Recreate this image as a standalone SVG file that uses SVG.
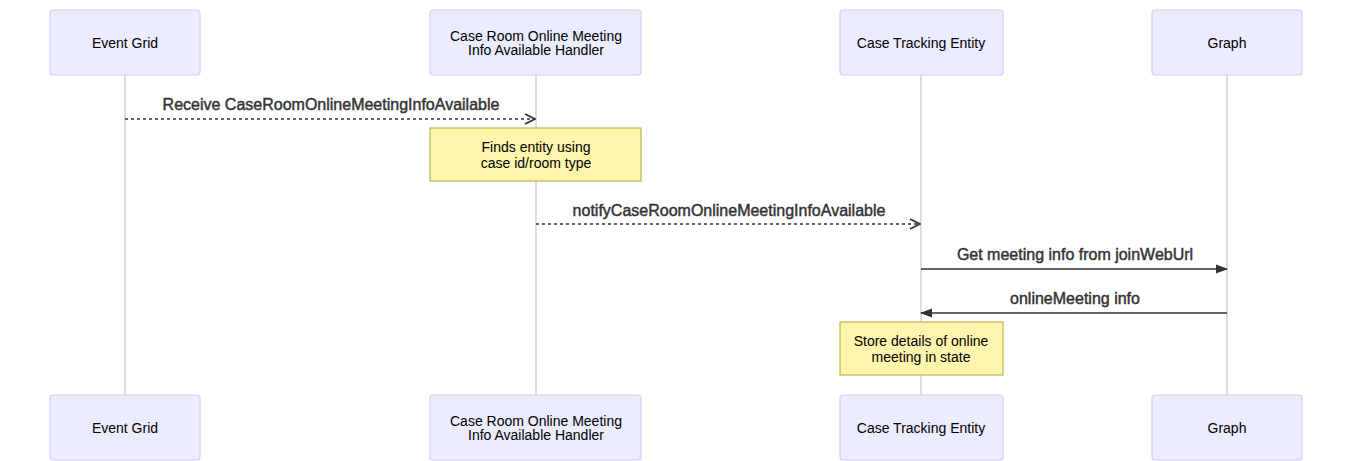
<svg xmlns="http://www.w3.org/2000/svg" width="1352" height="461" viewBox="0 0 1352 461">
<defs>
<style>
.actor{fill:#ececff;stroke:#d6cff5;stroke-width:1.2}
.atext{font-family:"Liberation Sans",Arial,sans-serif;font-size:14px;fill:#000;text-anchor:middle}
.life{stroke:#d3d3d3;stroke-width:1.5}
.msg{stroke:#333;stroke-width:1.5;fill:none}
.dash{stroke-dasharray:3,3}
.mtext{font-family:"Liberation Sans",Arial,sans-serif;font-size:16px;fill:#333;stroke:#333;stroke-width:0.45;text-anchor:middle}
.note{fill:#fff5ad;stroke:#aaaa33;stroke-width:1}
.ntext{font-family:"Liberation Sans",Arial,sans-serif;font-size:14px;fill:#000;text-anchor:middle}
</style>
<marker id="open" viewBox="0 0 12 12" refX="11" refY="6" markerWidth="12" markerHeight="12" markerUnits="userSpaceOnUse" orient="auto">
<path d="M1,1 L11,6 L1,11" fill="none" stroke="#333" stroke-width="1.8"/>
</marker>
<marker id="filled" viewBox="0 0 12 12" refX="11" refY="6" markerWidth="12" markerHeight="12" markerUnits="userSpaceOnUse" orient="auto">
<path d="M0,1.5 L12,6 L0,10.5 Z" fill="#333"/>
</marker>
</defs>
<rect width="1352" height="461" fill="#fff"/>
<g id="lifelines">
<line class="life" x1="125" y1="75" x2="125" y2="395"/>
<line class="life" x1="536" y1="75" x2="536" y2="395"/>
<line class="life" x1="921" y1="75" x2="921" y2="395"/>
<line class="life" x1="1227" y1="75" x2="1227" y2="395"/>
</g>
<g id="actor-eventgrid-top"><rect class="actor" x="50" y="10" width="150" height="65" rx="3"/><text class="atext" x="125" y="48">Event Grid</text></g>
<g id="actor-handler-top"><rect class="actor" x="430" y="10" width="211" height="65" rx="3"/><text class="atext" x="536" y="41">Case Room Online Meeting</text><text class="atext" x="536" y="55">Info Available Handler</text></g>
<g id="actor-cte-top"><rect class="actor" x="840" y="10" width="163" height="65" rx="3"/><text class="atext" x="921" y="48">Case Tracking Entity</text></g>
<g id="actor-graph-top"><rect class="actor" x="1152" y="10" width="150" height="65" rx="3"/><text class="atext" x="1227" y="48">Graph</text></g>
<g id="actor-eventgrid-bottom"><rect class="actor" x="50" y="395" width="150" height="65" rx="3"/><text class="atext" x="125" y="433">Event Grid</text></g>
<g id="actor-handler-bottom"><rect class="actor" x="430" y="395" width="211" height="65" rx="3"/><text class="atext" x="536" y="426">Case Room Online Meeting</text><text class="atext" x="536" y="440">Info Available Handler</text></g>
<g id="actor-cte-bottom"><rect class="actor" x="840" y="395" width="163" height="65" rx="3"/><text class="atext" x="921" y="433">Case Tracking Entity</text></g>
<g id="actor-graph-bottom"><rect class="actor" x="1152" y="395" width="150" height="65" rx="3"/><text class="atext" x="1227" y="433">Graph</text></g>
<g id="note-finds"><rect class="note" x="430" y="128" width="211" height="53"/><text class="ntext" x="536" y="152">Finds entity using</text><text class="ntext" x="536" y="168">case id/room type</text></g>
<g id="note-store"><rect class="note" x="840" y="322" width="163" height="53"/><text class="ntext" x="921" y="346">Store details of online</text><text class="ntext" x="921" y="362">meeting in state</text></g>
<g id="connectors">
<line class="msg dash" x1="125" y1="119" x2="535" y2="119" marker-end="url(#open)"/>
<text class="mtext" x="331" y="110">Receive CaseRoomOnlineMeetingInfoAvailable</text>
<line class="msg dash" x1="536" y1="224" x2="920" y2="224" marker-end="url(#open)"/>
<text class="mtext" x="729" y="216">notifyCaseRoomOnlineMeetingInfoAvailable</text>
<line class="msg" x1="921" y1="269" x2="1227" y2="269" marker-end="url(#filled)"/>
<text class="mtext" x="1075" y="260">Get meeting info from joinWebUrl</text>
<line class="msg" x1="1227" y1="313" x2="921" y2="313" marker-end="url(#filled)"/>
<text class="mtext" x="1075" y="304">onlineMeeting info</text>
</g>
</svg>
